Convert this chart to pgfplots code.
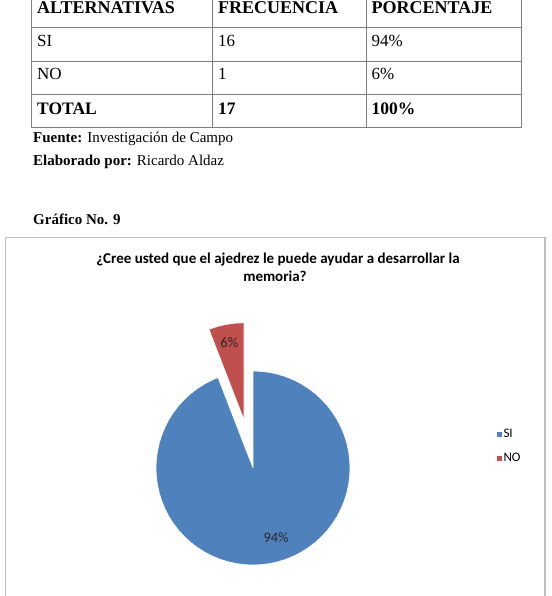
\documentclass[border=0pt]{standalone}
\usepackage{pgfplots}
\pgfplotsset{compat=1.18}
\usepgfplotslibrary{polar}
\usepackage{fontspec}
\setmainfont{Liberation Serif}
\newfontfamily\calibri{Carlito}
\definecolor{siblue}{HTML}{4F81BD}
\definecolor{nored}{HTML}{C0504D}
\definecolor{tline}{HTML}{7F7F7F}
\definecolor{boxline}{HTML}{BFBFBF}
\begin{document}
\begin{tikzpicture}
\useasboundingbox (0,0) rectangle (551pt,596pt);
\clip (0,0) rectangle (551pt,596pt);
\begin{scope}[x=1pt,y=-1pt,yshift=596pt]
  % table
  \draw[tline,line width=1pt] (31.7,-5) -- (31.7,128) (212.7,-5) -- (212.7,128) (366,-5) -- (366,128) (521.7,-5) -- (521.7,128);
  \draw[tline,line width=1pt] (31.7,27.7) -- (521.7,27.7) (31.7,61.3) -- (521.7,61.3) (31.7,94.7) -- (521.7,94.7) (31.2,128) -- (522.2,128);
  \tikzset{tx/.style={anchor=base west,inner sep=0pt,font=\fontsize{17}{20}\selectfont},
           th/.style={anchor=base west,inner sep=0pt,font=\fontsize{18}{21}\selectfont\bfseries},
           tt/.style={anchor=base west,inner sep=0pt,font=\fontsize{17.5}{21}\selectfont\bfseries}}
  \node[th] at (37,13.3) {ALTERNATIVAS};
  \node[th] at (218,13.3) {FRECUENCIA};
  \node[th] at (371.5,13.3) {PORCENTAJE};
  \node[tx] at (37,46.7) {SI};
  \node[tx] at (218,46.7) {16};
  \node[tx] at (371.5,46.7) {94\%};
  \node[tx] at (37,80) {NO};
  \node[tx] at (218,80) {1};
  \node[tx] at (371.5,80) {6\%};
  \node[tt] at (37,114.3) {TOTAL};
  \node[tt] at (218,114.3) {17};
  \node[tt] at (371.5,114.3) {100\%};
  \tikzset{sx/.style={anchor=base west,inner sep=0pt,font=\fontsize{15}{18}\selectfont}}
  \node[sx] at (33,142.3) {\textbf{Fuente:} Investigación de Campo};
  \node[sx] at (33,166) {\textbf{Elaborado por:} Ricardo Aldaz};
  \node[sx] at (33,225) {\textbf{Gráfico No. 9}};
  % chart box
  \draw[boxline,line width=1.5pt] (5.7,700) -- (5.7,237.3) -- (544.8,237.3) -- (544.8,700);
  \node[anchor=base,inner sep=0pt,font=\calibri\bfseries\fontsize{15}{18}\selectfont] at (278,263.5) {¿Cree usted que el ajedrez le puede ayudar a desarrollar la};
  \node[anchor=base,inner sep=0pt,font=\calibri\bfseries\fontsize{15}{18}\selectfont] at (275,282) {memoria?};
\end{scope}
\begin{polaraxis}[
  at={(253pt,128pt)}, anchor=center,
  width=194pt, height=194pt, scale only axis,
  xmin=0, xmax=360, ymin=0, ymax=97,
  hide axis, clip=false,
  legend style={at={(axis description cs:1.752,0.613)}, anchor=west, draw=none, fill=none,
    font=\calibri\fontsize{13}{15}\selectfont, row sep=12pt, inner sep=0pt,
    nodes={inner sep=1pt},
    /tikz/every even column/.append style={column sep=2.5pt}},
  legend cell align=left,
  legend image code/.code={\fill[#1] (0pt,-2.9pt) rectangle (5.8pt,2.9pt);},
]
\addplot[fill=siblue, draw=white, line width=0.6pt] coordinates {
 (0,0) (90,97) (85,97) (80,97) (75,97) (70,97) (65,97) (60,97) (55,97) (50,97)
 (45,97) (40,97) (35,97) (30,97) (25,97) (20,97) (15,97) (10,97) (5,97) (0,97)
 (-5,97) (-10,97) (-15,97) (-20,97) (-25,97) (-30,97) (-35,97) (-40,97) (-45,97)
 (-50,97) (-55,97) (-60,97) (-65,97) (-70,97) (-75,97) (-80,97) (-85,97) (-90,97)
 (-95,97) (-100,97) (-105,97) (-110,97) (-115,97) (-120,97) (-125,97) (-130,97)
 (-135,97) (-140,97) (-145,97) (-150,97) (-155,97) (-160,97) (-165,97) (-170,97)
 (-175,97) (-180,97) (-185,97) (-190,97) (-195,97) (-200,97) (-205,97) (-210,97)
 (-215,97) (-220,97) (-225,97) (-230,97) (-235,97) (-240,97) (-245,97) (-248.82,97) (0,0)
};
\addlegendentry{SI}
\addplot[fill=nored, draw=white, line width=0.6pt, shift={(-9pt,48.2pt)}, forget plot] coordinates {
 (0,0) (111.18,97) (110,97) (105,97) (100,97) (95,97) (90,97) (0,0)
};
\addlegendimage{fill=nored, draw=white}
\addlegendentry{NO}
\node[font=\calibri\fontsize{14.5}{17}\selectfont, text=black!85] at (axis cs:-71.7,73.4) {94\%};
\node[font=\calibri\fontsize{14.5}{17}\selectfont, text=black!85] at (axis cs:100.7,127.5) {6\%};
\end{polaraxis}
\end{tikzpicture}
\end{document}
